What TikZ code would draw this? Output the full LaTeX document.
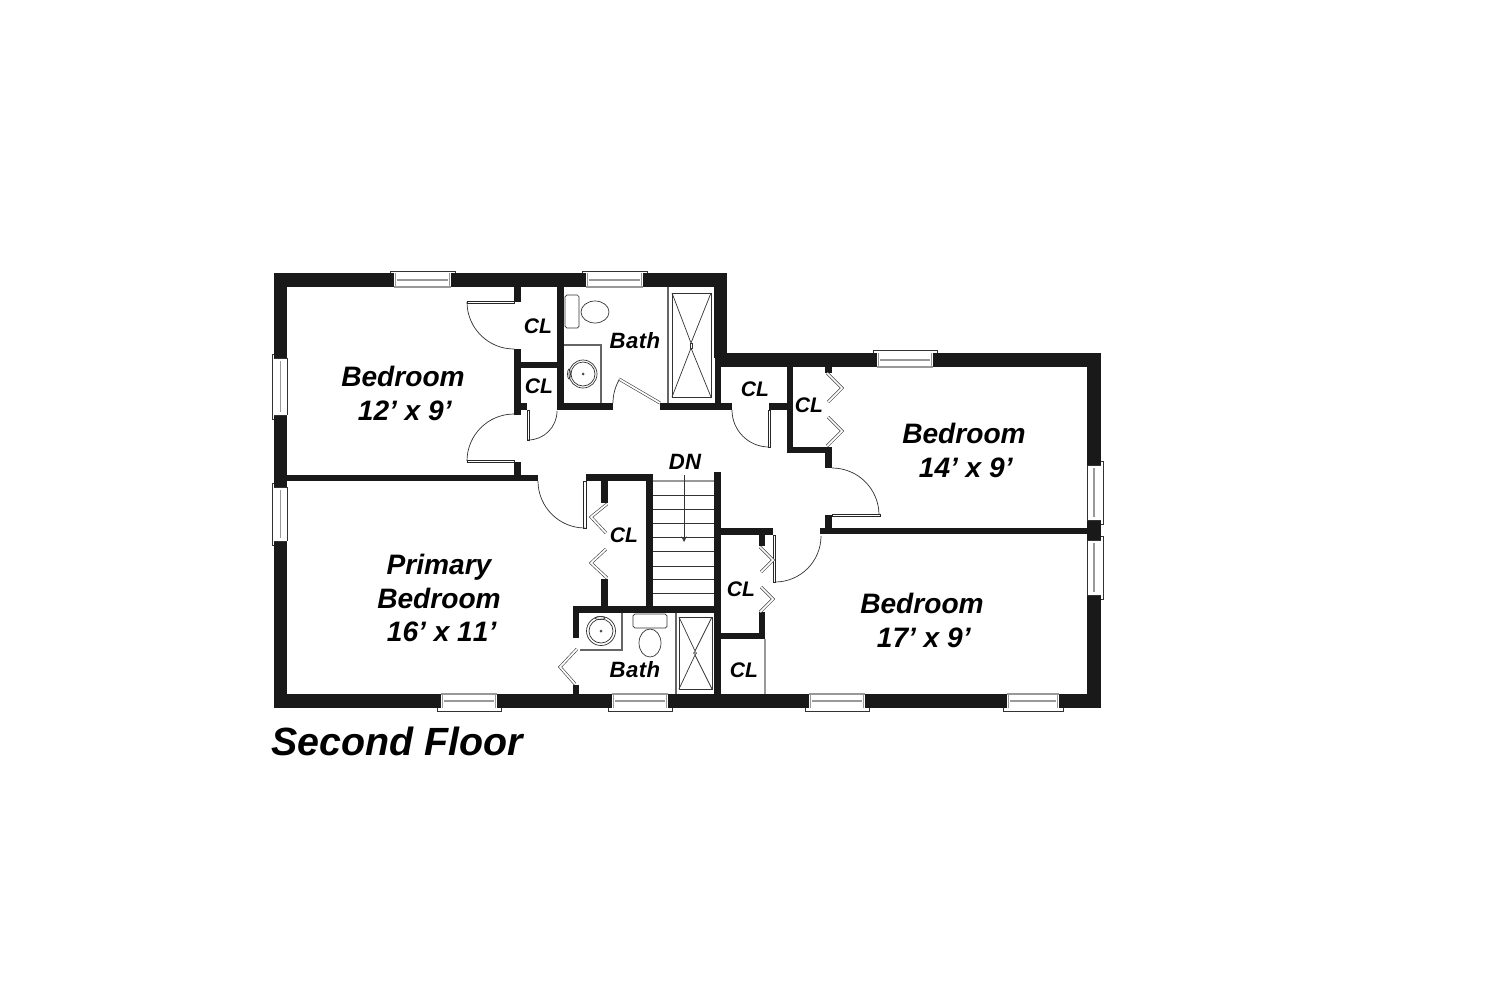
\documentclass[tikz,border=0pt]{standalone}
\usepackage{fontspec}
\setmainfont{Liberation Sans}
\usetikzlibrary{positioning}

\tikzset{
	wall/.style={fill=black!90},
	thin_line/.style={draw=black!80, line width=0.4pt},
	grey_line/.style={draw=black!40, line width=0.6pt},
	panel/.style={draw=black!75, line width=0.35pt, double=white, double distance=1pt},
	panel_box/.style={draw=black!85, fill=white, line width=0.45pt},
	room_label/.style={font=\fontsize{16}{19.3}\selectfont\bfseries\itshape, align=center, inner sep=0pt},
	small_label/.style={font=\fontsize{12}{14}\selectfont\bfseries\itshape, inner sep=0pt},
	wide_label/.style={font=\fontsize{12.6}{14}\selectfont\bfseries\itshape\addfontfeature{LetterSpace=2}, inner sep=0pt},
	title_label/.style={font=\fontsize{22.4}{26}\selectfont\bfseries\itshape, inner sep=0pt}
}

\begin{document}
\begin{tikzpicture}[x=0.02cm,y=-0.02cm]
		\useasboundingbox (0,0) rectangle (1500,1004);
		\fill[white] (0,0) rectangle (1500,1004);

		%% Walls
		\begin{scope}
			% Outer
			\foreach \xa/\ya/\xb/\yb in {274/273/727/287, 274/273/287/708, 274/694/1101/708, 714/273/727/358,
				721/353/1101/367, 1087/353/1101/708}
				\fill[wall] (\xa,\ya) rectangle (\xb,\yb);
			% Upper left rooms
			\foreach \xa/\ya/\xb/\yb in {287/475/538/481, 514/287/521/302, 514/349/521/415, 521/403/527/410,
				514/462/521/475, 521/362/557/368, 557/287/564/410, 557/403/613/410, 660/403/732/410, 715/358/721/403}
				\fill[wall] (\xa,\ya) rectangle (\xb,\yb);
			% Upper right rooms
			\foreach \xa/\ya/\xb/\yb in {769/403/787/410, 787/367/793/453, 787/447/832/453, 825/367/832/373,
				825/453/832/468, 825/515/832/529, 820/528/1087/534}
				\fill[wall] (\xa,\ya) rectangle (\xb,\yb);
			% Stairs and closets
			\foreach \xa/\ya/\xb/\yb in {586/474/653/481, 646/481/653/606, 714/472/721/694, 601/481/608/503,
				601/579/608/606, 573/606/721/613, 573/613/579/638, 573/685/579/694,
				721/528/773/535, 759/535/765/546, 759/612/765/639, 721/633/765/639}
				\fill[wall] (\xa,\ya) rectangle (\xb,\yb);
		\end{scope}

		%% Windows
		\begin{scope}
			% Along the top and bottom walls
			\foreach \xa/\xb/\ya/\yb/\yin/\ysill in {394/451/273/287/287/271, 586/643/273/287/287/271, 877/933/353/367/367/350,
				441/497/694/708/694/711, 612/668/694/708/694/711, 809/865/694/708/694/711, 1007/1059/694/708/694/711} {
				\fill[white] (\xa,\ya) rectangle (\xb,\yb);
				\filldraw[fill=white, thin_line] (\xa-4,\ya/2+\yb/2) -- (\xa-4,\ysill) -- (\xb+4,\ysill) -- (\xb+4,\ya/2+\yb/2);
				\fill[white] (\xa-4,\ya/2+\yb/2) rectangle (\xb+4,\yb);
				\fill[wall] (\xa-5,\ya) rectangle (\xa,\yb);
				\fill[wall] (\xb,\ya) rectangle (\xb+5,\yb);
				\fill[white] (\xa,\ya) rectangle (\xb,\yb);
				\draw[grey_line] (\xa+1.5,\ya) -- (\xa+1.5,\yb) (\xb-1.5,\ya) -- (\xb-1.5,\yb);
				\draw[grey_line] (\xa,\yin) -- (\xb,\yin);
				\draw[grey_line, line width=1pt] (\xa+3,\ya/2+\yb/2) -- (\xb-3,\ya/2+\yb/2);
			}
			% Along the left and right walls
			\foreach \ya/\yb/\xa/\xb/\xin/\xsill in {358/415/274/287/287/272, 487/541/274/287/287/272,
				465/520/1087/1101/1087/1103, 540/595/1087/1101/1087/1103} {
				\filldraw[fill=white, thin_line] (\xa/2+\xb/2,\ya-4) -- (\xsill,\ya-4) -- (\xsill,\yb+4) -- (\xa/2+\xb/2,\yb+4);
				\fill[wall] (\xa,\ya-5) rectangle (\xb,\ya);
				\fill[wall] (\xa,\yb) rectangle (\xb,\yb+5);
				\fill[white] (\xa,\ya) rectangle (\xb,\yb);
				\draw[thin_line] (\xa,\ya) -- (\xb,\ya) (\xa,\yb) -- (\xb,\yb);
				\draw[thin_line] (\xin,\ya) -- (\xin,\yb);
				\draw[grey_line, line width=1pt] (\xa/2+\xb/2,\ya+3) -- (\xa/2+\xb/2,\yb-3);
			}
		\end{scope}

		%% Doors
		\begin{scope}
			% Panels
			\draw[panel_box] (514,301) rectangle (467,303);
			\draw[panel_box] (514,460) rectangle (467,462);
			\draw[panel_box] (527,410) rectangle (529,440);
			\draw[panel_box] (583,481) rectangle (586,528);
			\draw[panel_box] (768,410) rectangle (770,447);
			\draw[panel_box] (832,514) rectangle (880,516);
			\draw[panel_box] (773,535) rectangle (775,582);
			\draw[panel] (660,403) -- (619,379);
			% Swings
			\draw[thin_line] (467,302) arc[start angle=180, end angle=90, radius=47];
			\draw[thin_line] (467,461) arc[start angle=180, end angle=270, radius=47];
			\draw[thin_line] (528,440) arc[start angle=90, end angle=0, radius=29];
			\draw[thin_line] (538,481) arc[start angle=180, end angle=90, radius=47];
			\draw[thin_line] (732,410) arc[start angle=180, end angle=90, radius=37];
			\draw[thin_line] (832,468) arc[start angle=270, end angle=360, radius=47];
			\draw[thin_line] (775,582) arc[start angle=90, end angle=0, radius=46];
			\draw[thin_line] (613,403) arc[start angle=180, end angle=210, radius=47];
			% Bifolds
			\draw[panel] (827,373) -- (842,388) -- (828,402);
			\draw[panel] (828,417) -- (842,431) -- (827,446);
			\draw[panel] (607,504) -- (591,517) -- (606,533);
			\draw[panel] (606,549) -- (591,563) -- (607,578);
			\draw[panel] (760,547) -- (773,560) -- (761,572);
			\draw[panel] (761,587) -- (773,599) -- (760,612);
			\draw[panel] (577,649) -- (560,667) -- (575,684);
		\end{scope}

		%% Fixtures
		\begin{scope}
			% Upper bath
			\draw[thin_line, rounded corners=1pt] (565,295) rectangle (579,328);
			\draw[thin_line] (595,312) ellipse [x radius=14, y radius=11];
			\draw[grey_line, draw=black!60] (564,345) -- (601,345) -- (601,403);
			\draw[thin_line] (583,374) circle [radius=14] (583,374) circle [radius=12];
			\fill[black!70] (583,374) circle [radius=1.5];
			\draw[thin_line] (569,374) ellipse [x radius=1.5, y radius=5];
			\draw[grey_line, draw=black!60] (668,287) -- (668,403);
			\draw[thin_line] (672,293) rectangle (711,397);
			\draw[thin_line] (672,293) -- (691,343) (711,293) -- (691,343) (672,397) -- (691,348) (711,397) -- (691,348);
			\draw[thin_line] (690,343) rectangle (692,348);
			% Lower bath
			\draw[grey_line, draw=black!60] (580,650) -- (622,650) -- (622,613);
			\draw[thin_line] (601,631) circle [radius=14.5] (601,631) circle [radius=12];
			\fill[black!70] (601,631) circle [radius=1.5];
			\draw[thin_line] (600,618) ellipse [x radius=5, y radius=1.5];
			\draw[thin_line, rounded corners=1pt] (633,614) rectangle (667,628);
			\draw[thin_line] (650,643) ellipse [x radius=11, y radius=14];
			\draw[grey_line, draw=black!60] (676,613) -- (676,694);
			\draw[thin_line] (679,617) rectangle (712,689);
			\draw[thin_line] (679,617) -- (695,651) (712,617) -- (695,651) (679,689) -- (695,655) (712,689) -- (695,655);
			\draw[thin_line] (695,653) circle [radius=1.5];
			% Closet edge
			\draw[grey_line] (765,639) -- (765,694);
		\end{scope}

		%% Stairs
		\begin{scope}
			\foreach \y in {495,509,523,537,551,566,579,593}
				\draw[thin_line] (653,\y) -- (714,\y);
			\draw[grey_line] (653,481) -- (714,481);
			\coordinate (stair_top) at (684,475);
			\coordinate (stair_end) at (684,542);
			\draw[thin_line, -stealth] (stair_top) -- (stair_end);
		\end{scope}

		%% Labels
		\begin{scope}
			\node (bedroom_nw) at (403,393) [room_label] {Bedroom\\\hspace*{2pt}12’ x 9’};
			\node (bedroom_ne) at (964,450) [room_label] {Bedroom\\\hspace*{2pt}14’ x 9’};
			\node (bedroom_se) at (922,620) [room_label] {Bedroom\\\hspace*{2pt}17’ x 9’};
			\node (bedroom_primary) at (439,598) [room_label] {Primary\\Bedroom\\\hspace*{3pt}16’ x 1\kern0pt 1’};
			\node (cl_a) at (538,326) [small_label] {CL};
			\node (cl_b) at (539,386) [small_label] {CL};
			\node (cl_c) at (755,389) [small_label] {CL};
			\node (cl_d) at (809,405) [small_label] {CL};
			\node (cl_e) at (624,535) [small_label] {CL};
			\node (cl_f) at (741,589) [small_label] {CL};
			\node (cl_g) at (744,670) [small_label] {CL};
			\node (bath_upper) at (635,341) [wide_label] {Bath};
			\node (bath_lower) at (635,670) [wide_label] {Bath};
			\node (stair_dn) at (685,462) [wide_label] {DN};
			\node (floor_title) at (397,741) [title_label] {Second Floor};
		\end{scope}
	\end{tikzpicture}
\end{document}
